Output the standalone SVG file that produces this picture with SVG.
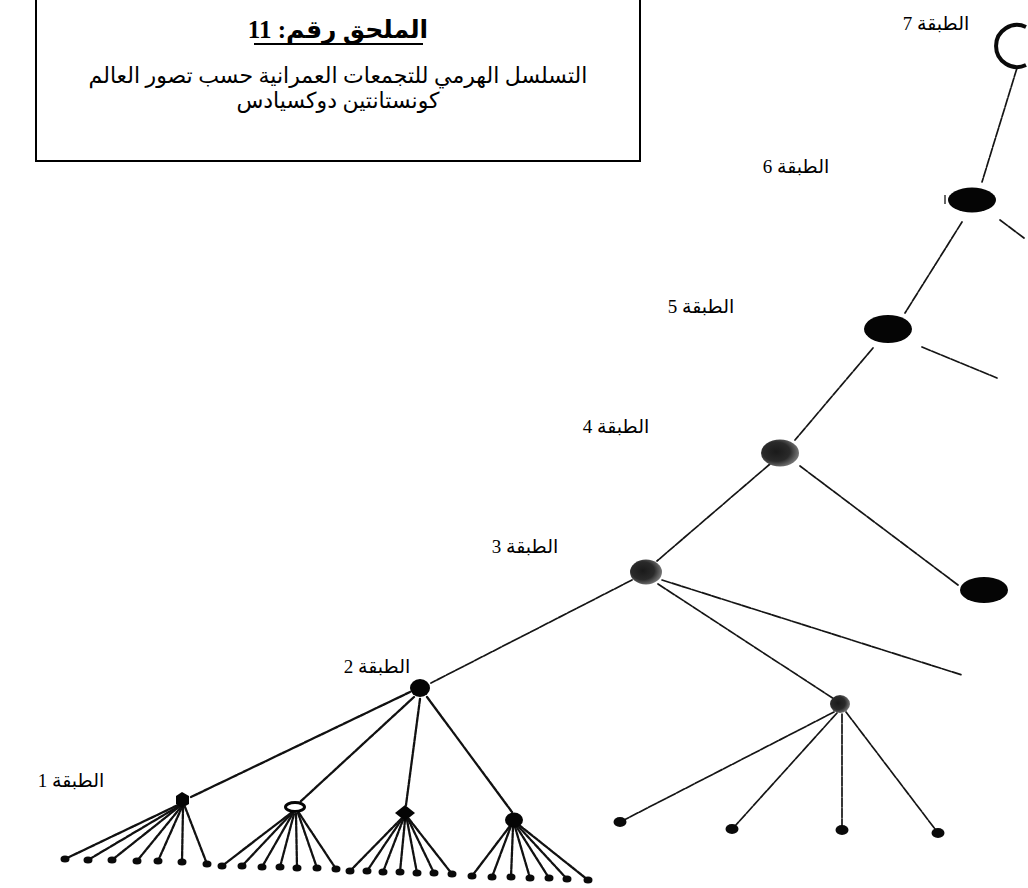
<svg xmlns="http://www.w3.org/2000/svg" width="1028" height="888" viewBox="0 0 1028 888">
<style>
.ln{stroke:#151515;stroke-width:1.7;fill:none;stroke-dasharray:9 1.5;stroke-linecap:round}
.fn{stroke:#111;stroke-width:2.3;fill:none;stroke-dasharray:5 1.2;stroke-linecap:round}
.blk{fill:#050505}
.dot{fill:#0a0a0a}
.lbl{font-family:'Liberation Serif','DejaVu Sans',serif;font-size:19px;fill:#000}
.ttl{font-family:'Liberation Serif','DejaVu Sans',serif;fill:#000}
</style>
<defs>
<radialGradient id="mot" cx="40%" cy="45%" r="60%">
<stop offset="0" stop-color="#1a1a1a"/><stop offset="0.6" stop-color="#2a2a2a"/><stop offset="1" stop-color="#777"/>
</radialGradient>
</defs>
<rect width="1028" height="888" fill="#fff"/>
<g id="title">
<rect x="36" y="-2" width="604" height="163" fill="none" stroke="#000" stroke-width="2"/>
<text class="ttl" x="338" y="38" text-anchor="middle" direction="rtl" font-size="25" font-weight="bold">الملحق رقم: 11</text>
<line x1="254" y1="44" x2="423" y2="44" stroke="#000" stroke-width="2.2"/>
<text class="ttl" x="338" y="83" text-anchor="middle" direction="rtl" font-size="22">التسلسل الهرمي للتجمعات العمرانية حسب تصور العالم</text>
<text class="ttl" x="338" y="108" text-anchor="middle" direction="rtl" font-size="22">كونستانتين دوكسيادس</text>
</g>
<g id="labels">
<text class="lbl" x="936" y="30" text-anchor="middle" direction="rtl">الطبقة 7</text>
<text class="lbl" x="796" y="173" text-anchor="middle" direction="rtl">الطبقة 6</text>
<text class="lbl" x="701" y="313" text-anchor="middle" direction="rtl">الطبقة 5</text>
<text class="lbl" x="616" y="433" text-anchor="middle" direction="rtl">الطبقة 4</text>
<text class="lbl" x="525" y="553" text-anchor="middle" direction="rtl">الطبقة 3</text>
<text class="lbl" x="377" y="673" text-anchor="middle" direction="rtl">الطبقة 2</text>
<text class="lbl" x="71" y="787" text-anchor="middle" direction="rtl">الطبقة 1</text>
</g>
<g id="connectors">
<line class="ln" x1="1017" y1="68" x2="982" y2="182"/>
<line class="ln" x1="1000" y1="220" x2="1024" y2="238"/>
<line class="ln" x1="962" y1="222" x2="905" y2="313"/>
<line class="ln" x1="922" y1="347" x2="997" y2="378"/>
<line class="ln" x1="873" y1="348" x2="795" y2="440"/>
<line class="ln" x1="800" y1="466" x2="958" y2="585"/>
<line class="ln" x1="770" y1="464" x2="657" y2="561"/>
<line class="ln" x1="662" y1="580" x2="962" y2="675"/>
<line class="ln" x1="658" y1="584" x2="834" y2="699"/>
<line class="ln" x1="632" y1="580" x2="431" y2="683"/>
<line class="ln" x1="834" y1="712" x2="624" y2="820"/>
<line class="ln" x1="837" y1="713" x2="735" y2="826"/>
<line class="ln" x1="842" y1="714" x2="842" y2="826"/>
<line class="ln" x1="846" y1="712" x2="935" y2="829"/>
<line class="fn" x1="410" y1="692" x2="191" y2="797"/>
<line class="fn" x1="414" y1="697" x2="300" y2="802"/>
<line class="fn" x1="420" y1="699" x2="406" y2="805"/>
<line class="fn" x1="427" y1="697" x2="512" y2="812"/>
<g id="fan1">
<line class="fn" x1="178" y1="805" x2="65" y2="859"/>
<line class="fn" x1="179" y1="806" x2="88" y2="860"/>
<line class="fn" x1="180" y1="806" x2="112" y2="860"/>
<line class="fn" x1="181" y1="807" x2="137" y2="861"/>
<line class="fn" x1="182" y1="807" x2="158" y2="861"/>
<line class="fn" x1="183" y1="808" x2="182" y2="862"/>
<line class="fn" x1="185" y1="807" x2="207" y2="864"/>
</g>
<g id="fan2">
<line class="fn" x1="291" y1="813" x2="222" y2="866"/>
<line class="fn" x1="292" y1="813" x2="242" y2="866"/>
<line class="fn" x1="293" y1="813" x2="262" y2="867"/>
<line class="fn" x1="294" y1="814" x2="280" y2="867"/>
<line class="fn" x1="296" y1="814" x2="297" y2="868"/>
<line class="fn" x1="298" y1="813" x2="317" y2="868"/>
<line class="fn" x1="299" y1="813" x2="336" y2="869"/>
</g>
<g id="fan3">
<line class="fn" x1="401" y1="819" x2="350" y2="871"/>
<line class="fn" x1="402" y1="819" x2="367" y2="871"/>
<line class="fn" x1="403" y1="820" x2="383" y2="872"/>
<line class="fn" x1="405" y1="820" x2="400" y2="872"/>
<line class="fn" x1="407" y1="820" x2="417" y2="873"/>
<line class="fn" x1="408" y1="819" x2="434" y2="873"/>
<line class="fn" x1="409" y1="819" x2="452" y2="874"/>
</g>
<g id="fan4">
<line class="fn" x1="510" y1="826" x2="472" y2="876"/>
<line class="fn" x1="511" y1="826" x2="492" y2="877"/>
<line class="fn" x1="513" y1="827" x2="511" y2="877"/>
<line class="fn" x1="515" y1="827" x2="530" y2="878"/>
<line class="fn" x1="516" y1="826" x2="549" y2="878"/>
<line class="fn" x1="518" y1="826" x2="567" y2="879"/>
<line class="fn" x1="519" y1="825" x2="588" y2="880"/>
</g>
</g>
<g id="node-l7"><path d="M1026 27 A21 21 0 1 0 1026 65" fill="none" stroke="#0a0a0a" stroke-width="4"/></g>
<g id="node-l6"><ellipse class="blk" cx="972" cy="200" rx="24" ry="12.5"/><line x1="945" y1="195" x2="945" y2="204" stroke="#333" stroke-width="1.5"/></g>
<g id="node-l5"><ellipse class="blk" cx="888" cy="329" rx="24" ry="14"/></g>
<g id="node-l4"><ellipse cx="780" cy="453" rx="19" ry="13.5" fill="url(#mot)"/></g>
<g id="node-l4r"><ellipse class="blk" cx="984" cy="590" rx="24" ry="13"/></g>
<g id="node-l3"><ellipse cx="646" cy="572" rx="16" ry="12.5" fill="url(#mot)"/></g>
<g id="node-l2r"><ellipse cx="840" cy="704" rx="10" ry="9" fill="url(#mot)"/></g>
<g id="node-l2l"><ellipse class="blk" cx="420" cy="688" rx="10" ry="9"/></g>
<g id="node-f1"><polygon class="blk" points="176,796 182,792 189,796 189,804 182,808 176,804"/></g>
<g id="node-f2"><ellipse cx="295" cy="807" rx="9.5" ry="4.5" fill="none" stroke="#050505" stroke-width="3"/></g>
<g id="node-f3"><polygon class="blk" points="395,813 405,805 415,813 405,821"/></g>
<g id="node-f4"><ellipse class="blk" cx="514" cy="820" rx="9" ry="7.5"/></g>
<g id="node-l2r-dots">
<ellipse class="dot" cx="620" cy="822" rx="6.5" ry="5"/>
<ellipse class="dot" cx="732" cy="829" rx="6.5" ry="5"/>
<ellipse class="dot" cx="842" cy="830" rx="6.5" ry="5"/>
<ellipse class="dot" cx="938" cy="833" rx="6.5" ry="5"/>
</g>
<g id="leaf-dots">
<ellipse class="dot" cx="65" cy="859" rx="4.5" ry="3.5"/><ellipse class="dot" cx="88" cy="860" rx="4.5" ry="3.5"/><ellipse class="dot" cx="112" cy="860" rx="4.5" ry="3.5"/><ellipse class="dot" cx="137" cy="861" rx="4.5" ry="3.5"/><ellipse class="dot" cx="158" cy="861" rx="4.5" ry="3.5"/><ellipse class="dot" cx="182" cy="862" rx="4.5" ry="3.5"/><ellipse class="dot" cx="207" cy="864" rx="4.5" ry="3.5"/>
<ellipse class="dot" cx="222" cy="866" rx="4.5" ry="3.5"/><ellipse class="dot" cx="242" cy="866" rx="4.5" ry="3.5"/><ellipse class="dot" cx="262" cy="867" rx="4.5" ry="3.5"/><ellipse class="dot" cx="280" cy="867" rx="4.5" ry="3.5"/><ellipse class="dot" cx="297" cy="868" rx="4.5" ry="3.5"/><ellipse class="dot" cx="317" cy="868" rx="4.5" ry="3.5"/><ellipse class="dot" cx="336" cy="869" rx="4.5" ry="3.5"/>
<ellipse class="dot" cx="350" cy="871" rx="4.5" ry="3.5"/><ellipse class="dot" cx="367" cy="871" rx="4.5" ry="3.5"/><ellipse class="dot" cx="383" cy="872" rx="4.5" ry="3.5"/><ellipse class="dot" cx="400" cy="872" rx="4.5" ry="3.5"/><ellipse class="dot" cx="417" cy="873" rx="4.5" ry="3.5"/><ellipse class="dot" cx="434" cy="873" rx="4.5" ry="3.5"/><ellipse class="dot" cx="452" cy="874" rx="4.5" ry="3.5"/>
<ellipse class="dot" cx="472" cy="876" rx="4.5" ry="3.5"/><ellipse class="dot" cx="492" cy="877" rx="4.5" ry="3.5"/><ellipse class="dot" cx="511" cy="877" rx="4.5" ry="3.5"/><ellipse class="dot" cx="530" cy="878" rx="4.5" ry="3.5"/><ellipse class="dot" cx="549" cy="878" rx="4.5" ry="3.5"/><ellipse class="dot" cx="567" cy="879" rx="4.5" ry="3.5"/><ellipse class="dot" cx="588" cy="880" rx="4.5" ry="3.5"/>
</g>
</svg>
